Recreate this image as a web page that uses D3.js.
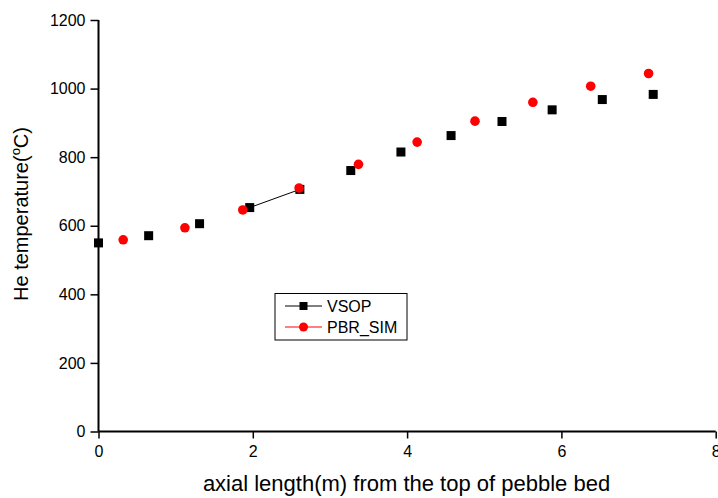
<!DOCTYPE html>
<html><head><meta charset="utf-8">
<script src="https://cdn.jsdelivr.net/npm/d3@7"></script>
<style>body{margin:0;background:#fff}svg{display:block}text{font-family:Arial,"Liberation Sans",sans-serif}</style>
</head><body>
<script>
const vsopX = [0, 0.65, 1.31, 1.96, 2.61, 3.27, 3.92, 4.57, 5.23, 5.88, 6.53, 7.19];
const vsopY = [550, 571, 606, 653, 706, 761, 815, 863, 904, 938, 968, 983];
const vsopLinked = [false, false, false, true, true, false, false, false, false, false, false, false];
const pbrX = [0.32, 1.12, 1.87, 2.60, 3.37, 4.13, 4.88, 5.63, 6.38, 7.13];
const pbrY = [559, 594, 646, 710, 779, 844, 905, 960, 1007, 1044];
const xTicks = [0, 2, 4, 6, 8];
const yTicks = [0, 200, 400, 600, 800, 1000, 1200];
const seriesNames = ["VSOP", "PBR_SIM"];

const W = 718, H = 498;
const svg = d3.select("body").append("svg").attr("width", W).attr("height", H);
const x = d3.scaleLinear().domain([0, 8]).range([98.5, 715.7]);
const y = d3.scaleLinear().domain([0, 1200]).range([431.5, 20]);

const gx = svg.append("g").attr("transform", `translate(0,${y(0)})`);
gx.call(d3.axisBottom(x).tickValues(d3.range(1, 8, 2)).tickSize(4).tickFormat(""));
gx.call(d3.axisBottom(x).tickValues(xTicks).tickSize(7).tickPadding(7).tickFormat(d3.format("d")));
const gy = svg.append("g").attr("transform", `translate(${x(0)},0)`);
gy.call(d3.axisLeft(y).tickValues(d3.range(100, 1200, 200)).tickSize(4).tickFormat(""));
gy.call(d3.axisLeft(y).tickValues(yTicks).tickSize(8).tickPadding(5).tickFormat(d3.format("d")));
svg.selectAll(".domain").attr("stroke", "#000").attr("stroke-width", 2);
svg.selectAll(".tick line").attr("stroke", "#000").attr("stroke-width", 1.5);
svg.selectAll(".tick text").attr("font-size", 16).attr("fill", "#000").attr("font-family", "Arial,'Liberation Sans',sans-serif");
gx.selectAll(".domain").attr("d", `M${x(0)},0H${x(8)}`);
gy.selectAll(".domain").attr("d", `M0,${y(0)}V${y(1200)}`);

const vsop = vsopX.map((v, i) => ({x: v, y: vsopY[i], l: vsopLinked[i]}));
const line = d3.line().defined(d => d.l).x(d => x(d.x)).y(d => y(d.y));
svg.append("path").datum(vsop).attr("d", line).attr("fill", "none").attr("stroke", "#000").attr("stroke-width", 1);

const s = 9;
svg.selectAll("rect.v").data(vsop).enter().append("rect").attr("class", "v")
  .attr("x", d => x(d.x) - s / 2).attr("y", d => y(d.y) - s / 2).attr("width", s).attr("height", s).attr("fill", "#000");

const pbr = pbrX.map((v, i) => ({x: v, y: pbrY[i]}));
svg.selectAll("circle.p").data(pbr).enter().append("circle").attr("class", "p")
  .attr("cx", d => x(d.x)).attr("cy", d => y(d.y)).attr("r", 4.8).attr("fill", "#ff0000");

const lg = svg.append("g");
lg.append("rect").attr("x", 275).attr("y", 293.5).attr("width", 132).attr("height", 46.5)
  .attr("fill", "#fff").attr("stroke", "#000").attr("stroke-width", 1);
const rows = [306, 327];
seriesNames.forEach((n, i) => {
  const col = i === 0 ? "#000" : "#ff0000";
  lg.append("line").attr("x1", 285).attr("x2", 322).attr("y1", rows[i]).attr("y2", rows[i]).attr("stroke", col).attr("stroke-width", 1);
  if (i === 0) lg.append("rect").attr("x", 303.5 - 4).attr("y", rows[i] - 4).attr("width", 8).attr("height", 8).attr("fill", col);
  else lg.append("circle").attr("cx", 303.5).attr("cy", rows[i]).attr("r", 4.5).attr("fill", col);
  lg.append("text").attr("x", 327).attr("y", rows[i]).attr("dy", "0.36em").attr("font-size", 16).text(n);
});

svg.append("text").attr("x", 406.5).attr("y", 491).attr("text-anchor", "middle").attr("font-size", 22)
  .text("axial length(m) from the top of pebble bed");
const yt = svg.append("text").attr("transform", "translate(28,214) rotate(-90)").attr("text-anchor", "middle").attr("font-size", 20);
yt.append("tspan").text("He temperature(");
yt.append("tspan").attr("font-size", 13).attr("dy", -8).text("o");
yt.append("tspan").attr("dy", 8).text("C)");
</script>
</body></html>
